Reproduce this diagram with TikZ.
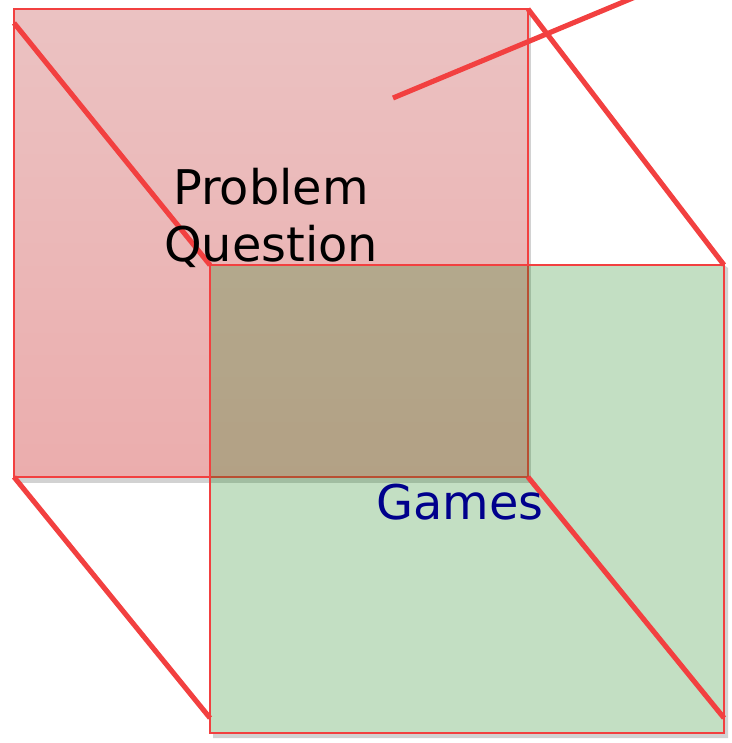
\documentclass[tikz,border=0pt]{standalone}
\usepackage{fontspec}
\setsansfont{DejaVu Sans}
\definecolor{backred}{HTML}{EBC2C2}
\definecolor{backredlow}{HTML}{EBADAD}
\definecolor{frontgreen}{RGB}{15,127,15}
\definecolor{edgered}{HTML}{F24040}
\definecolor{gamesblue}{HTML}{00008C}
\definecolor{shadowgrey}{HTML}{D2D2D2}

\begin{document}
\begin{tikzpicture}[
  x=0.02cm, y=-0.02cm,
  font=\sffamily,
  backface/.style={draw=edgered, line width=0.8pt, top color=backred, bottom color=backredlow},
  frontface/.style={draw=edgered, line width=0.8pt, fill=frontgreen, fill opacity=0.25},
  shadowband/.style={fill=shadowgrey},
  cubeedge/.style={draw=edgered, line width=2.9pt},
  bigtext/.style={align=center, font=\sffamily\fontsize{27.2}{32.5}\selectfont}
]
\useasboundingbox (0,0) rectangle (732,743);
\clip (0,0) rectangle (732,743);

% corners of the two faces
\coordinate (backTL) at (14,9);
\coordinate (backTR) at (528,9);
\coordinate (backBL) at (14,477);
\coordinate (backBR) at (528,477);
\coordinate (frontTL) at (210,265);
\coordinate (frontTR) at (724,265);
\coordinate (frontBL) at (210,733);
\coordinate (frontBR) at (724,733);

% ends of the slanted edges
\coordinate (edgeA) at (14,23);
\coordinate (edgeB) at (210,718);
\coordinate (edgeC) at (724,718);
\coordinate (pointerfoot) at (393,98);
\coordinate (pointertip) at (652,-10);

\fill[shadowband] ([shift={(3,5)}]backTL) rectangle ([shift={(3,6)}]backBR);
\path[backface] (backTL) rectangle (backBR);

\fill[shadowband] ([shift={(0,0)}]frontTR) -- ([shift={(4,3)}]frontTR) -- ([shift={(4,5)}]frontBR)
  -- ([shift={(3,5)}]frontBL) -- ([shift={(3,0)}]frontBL) -- (frontBR) -- cycle;
\path[frontface] (frontTL) rectangle (frontBR);

\draw[cubeedge] (edgeA) -- (frontTL);
\draw[cubeedge] (backTR) -- (frontTR);
\draw[cubeedge] (backBL) -- (edgeB);
\draw[cubeedge] (backBR) -- (edgeC);
\draw[cubeedge] (pointerfoot) -- (pointertip);

\node[bigtext] (problem) at (271,218) {Problem\\Question};
\node[bigtext, text=gamesblue, anchor=base] (games) at (460,519) {Games};

\end{tikzpicture}
\end{document}
